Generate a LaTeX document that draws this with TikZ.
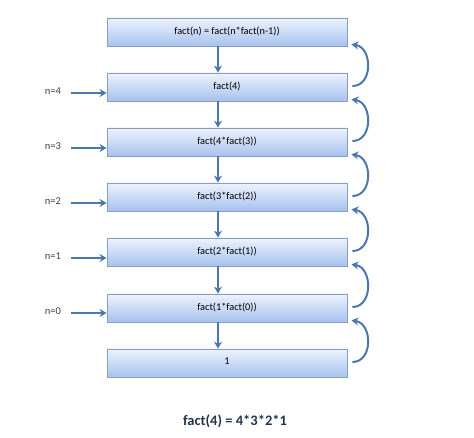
\documentclass[tikz,border=0pt]{standalone}
\usepackage{fontspec}
\setmainfont{Carlito}
\usetikzlibrary{arrows.meta}
\definecolor{arrowblue}{HTML}{4A78AE}
\definecolor{boxtop}{HTML}{EEF3FD}
\definecolor{boxbot}{HTML}{A7C2EE}
\definecolor{boxline}{HTML}{8A9DBB}
\definecolor{captioncol}{HTML}{24344F}
\tikzset{
  stepbox/.style={draw=boxline, line width=0.8pt, top color=boxtop, bottom color=boxbot,
    minimum width=240pt, minimum height=28pt, inner sep=0pt, font=\fontsize{10.3}{12}\selectfont},
  flow/.style={draw=arrowblue, line width=2pt, -{Stealth[length=7pt,width=8pt]}},
  nlabel/.style={font=\fontsize{10.5}{12}\selectfont, text=black!75},
}
\begin{document}
\begin{tikzpicture}[x=1pt,y=-1pt]
\useasboundingbox (0,0) rectangle (474,438);
\node[stepbox] (b1) at (227,32) {\raisebox{3pt}{fact(n) = fact(n*fact(n-1))}};
\node[stepbox] (b2) at (227,87) {\raisebox{3pt}{fact(4)}};
\node[stepbox] (b3) at (227,142) {\raisebox{3pt}{fact(4*fact(3))}};
\node[stepbox] (b4) at (227,197) {\raisebox{3pt}{fact(3*fact(2))}};
\node[stepbox] (b5) at (227,252) {\raisebox{3pt}{fact(2*fact(1))}};
\node[stepbox] (b6) at (227,308) {\raisebox{3pt}{fact(1*fact(0))}};
\node[stepbox] (b7) at (227,363) {\raisebox{3pt}{1}};
% down arrows
\foreach \a/\b in {b1/b2,b2/b3,b3/b4,b4/b5,b5/b6,b6/b7}
  \draw[flow] ([xshift=-9pt]\a.south) -- ([xshift=-9pt]\b.north);
% left labels and arrows
\foreach \n/\b/\y in {4/b2/93,3/b3/148,2/b4/203,1/b5/258,0/b6/313}{
  \node[nlabel] (n\n) at (53,\y-2) {n=\n};
  \coordinate (s\n) at (71,\y);
  \draw[flow] (s\n) -- (\b.west |- s\n);
}
% curved arrows on the right
\foreach \a/\b in {b1/b2,b2/b3,b3/b4,b4/b5,b5/b6,b6/b7}{
  \coordinate (t\b) at ([shift={(5pt,1pt)}]\b.east);
  \coordinate (h\a) at ([shift={(4pt,2pt)}]\a.south east);
  \draw[flow] (t\b) .. controls ([xshift=21pt]t\b) and ([shift={(21pt,-3pt)}]h\a) .. (h\a);
}
\node[font=\fontsize{14.5}{17}\selectfont\bfseries, text=captioncol] (cap) at (235,421) {fact(4) = 4*3*2*1};
\end{tikzpicture}
\end{document}
